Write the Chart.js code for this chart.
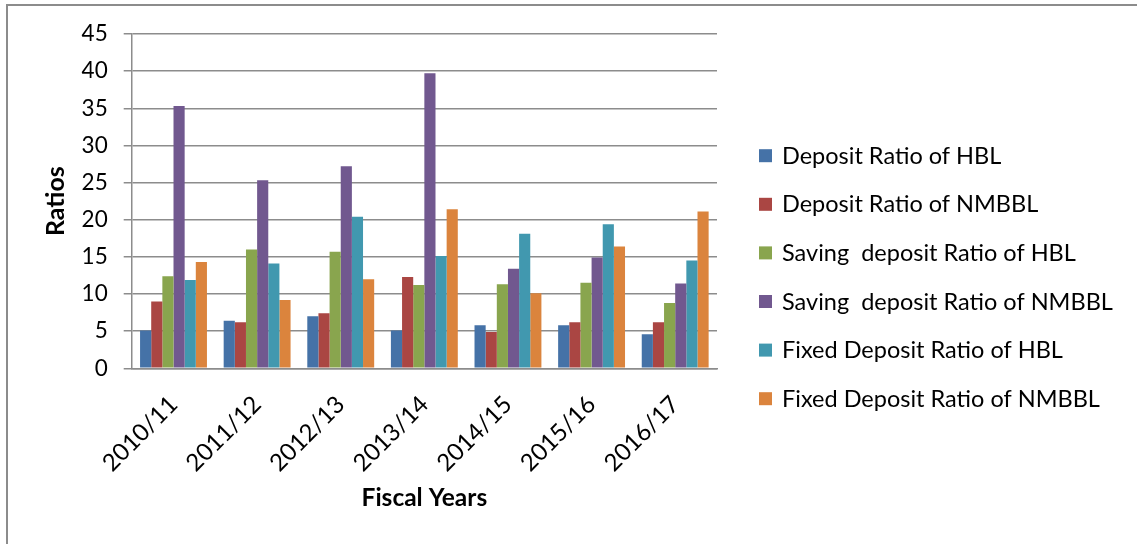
<!DOCTYPE html>
<html>
<head>
<meta charset="utf-8">
<title>Deposit Ratios</title>
<script src="https://cdn.jsdelivr.net/npm/chart.js@4"></script>
<style>
  html, body { margin: 0; padding: 0; background: #fff; }
  #wrap { position: relative; width: 1137px; height: 544px; overflow: hidden; }
  #frame { position: absolute; left: 6px; top: 4px; width: 1300px; height: 700px;
           border-left: 2px solid #8c8c8c; border-top: 2px solid #8c8c8c; }
  #ratioChart { position: absolute; left: 0; top: 0; }
</style>
</head>
<body>
<div id="wrap">
  <div id="frame"></div>
  <canvas id="ratioChart" width="1137" height="544"></canvas>
</div>
<script>
// fiscal years and ratio series
const categories = ['2010/11', '2011/12', '2012/13', '2013/14', '2014/15', '2015/16', '2016/17'];
const depositHBL = [5.1, 6.4, 7.0, 5.1, 5.8, 5.8, 4.6];
const depositNMBBL = [9.0, 6.2, 7.4, 12.3, 4.9, 6.2, 6.2];
const savingHBL = [12.4, 16.0, 15.7, 11.2, 11.3, 11.5, 8.8];
const savingNMBBL = [35.3, 25.3, 27.2, 39.7, 13.4, 14.9, 11.4];
const fixedHBL = [11.9, 14.1, 20.4, 15.1, 18.1, 19.4, 14.5];
const fixedNMBBL = [14.3, 9.2, 12.0, 21.4, 10.1, 16.4, 21.1];
const yTicks = [0, 5, 10, 15, 20, 25, 30, 35, 40, 45];

const FONT = 'Lato';
const gridGrey = '#8c8c8c';

// legend drawn at the right, one row per dataset
const sideLegend = {
    id: 'sideLegend',
    afterDraw(chart) {
        const ctx = chart.ctx;
        const x0 = chart.chartArea.right + 42;
        ctx.save();
        ctx.font = '23.5px ' + FONT;
        ctx.textBaseline = 'alphabetic';
        chart.data.datasets.forEach((ds, i) => {
            const cy = 155.7 + i * 48.6;
            ctx.fillStyle = ds.backgroundColor;
            ctx.fillRect(x0, cy - 6.5, 13, 13);
            ctx.fillStyle = '#000';
            ctx.fillText(ds.label, x0 + 23, cy + 8);
        });
        ctx.restore();
    }
};

const ctx = document.getElementById('ratioChart').getContext('2d');
new Chart(ctx, {
    type: 'bar',
    data: {
        labels: categories,
        datasets: [
            { label: 'Deposit Ratio of HBL', data: depositHBL, backgroundColor: '#4572a7' },
            { label: 'Deposit Ratio of NMBBL', data: depositNMBBL, backgroundColor: '#aa4643' },
            { label: 'Saving  deposit Ratio of HBL', data: savingHBL, backgroundColor: '#89a54e' },
            { label: 'Saving  deposit Ratio of NMBBL', data: savingNMBBL, backgroundColor: '#71588f' },
            { label: 'Fixed Deposit Ratio of HBL', data: fixedHBL, backgroundColor: '#4198af' },
            { label: 'Fixed Deposit Ratio of NMBBL', data: fixedNMBBL, backgroundColor: '#db843d' }
        ]
    },
    options: {
        responsive: false,
        devicePixelRatio: 1,
        animation: false,
        layout: { padding: { top: 34, right: 420, bottom: 0, left: 0 } },
        datasets: { bar: { categoryPercentage: 0.8, barPercentage: 1.0, borderWidth: 0 } },
        plugins: {
            legend: { display: false },
            tooltip: { enabled: false }
        },
        scales: {
            y: {
                min: 0,
                max: 45,
                afterBuildTicks: (scale) => { scale.ticks = yTicks.map(v => ({ value: v })); },
                afterFit: (scale) => { scale.width = 131.7; },
                ticks: { color: '#000', font: { family: FONT, size: 22.5 }, padding: 16 },
                grid: { color: gridGrey, lineWidth: 1.5, tickLength: 8 },
                border: { color: gridGrey, width: 1.5 },
                title: {
                    display: true,
                    text: 'Ratios',
                    color: '#000',
                    font: { family: FONT, size: 25, weight: 'bold' },
                    padding: { top: 41, bottom: 0 }
                }
            },
            x: {
                afterFit: (scale) => { scale.height = 544 - 368.3; },
                grid: { display: false, drawTicks: false },
                border: { color: gridGrey, width: 1.5 },
                ticks: {
                    color: '#000',
                    font: { family: FONT, size: 24 },
                    minRotation: 45,
                    maxRotation: 45,
                    padding: 22
                },
                title: {
                    display: true,
                    text: 'Fiscal Years',
                    color: '#000',
                    font: { family: FONT, size: 24.5, weight: 'bold' },
                    padding: { top: 0, bottom: 31 }
                }
            }
        }
    },
    plugins: [sideLegend]
});
</script>
</body>
</html>
